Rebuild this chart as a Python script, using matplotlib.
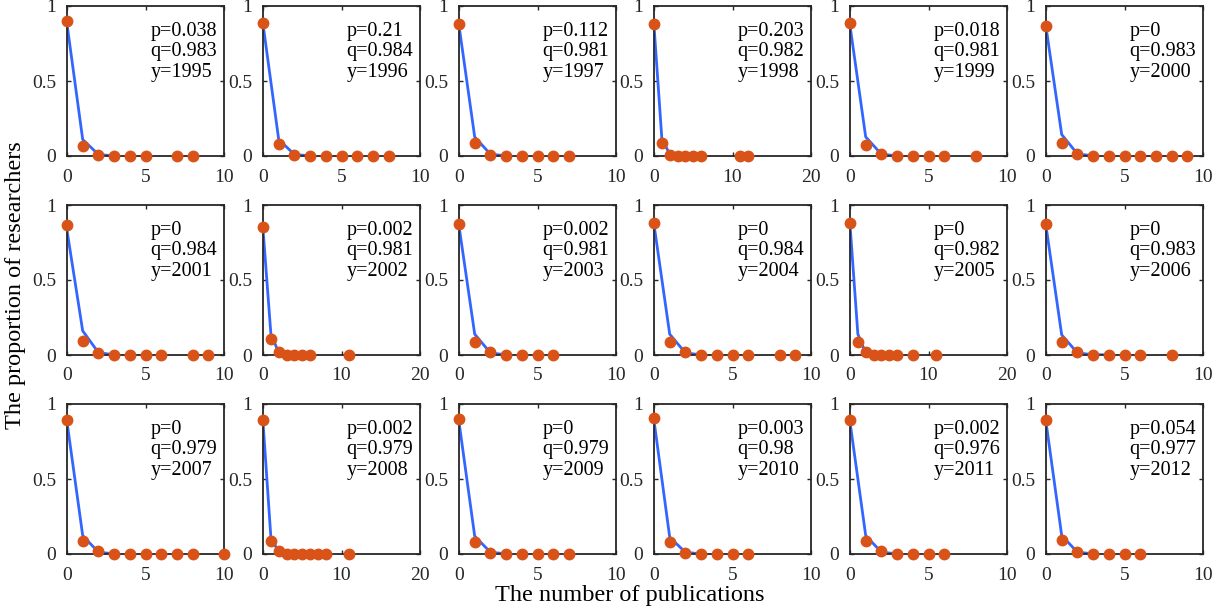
import matplotlib
matplotlib.use("Agg")
import matplotlib.pyplot as plt

plt.rcParams['font.family'] = ['Liberation Serif', 'DejaVu Serif']

# ---- data ----
years = [1995, 1996, 1997, 1998, 1999, 2000,
         2001, 2002, 2003, 2004, 2005, 2006,
         2007, 2008, 2009, 2010, 2011, 2012]
p_vals = ["0.038", "0.21", "0.112", "0.203", "0.018", "0",
          "0", "0.002", "0.002", "0", "0", "0",
          "0", "0.002", "0", "0.003", "0.002", "0.054"]
q_vals = ["0.983", "0.984", "0.981", "0.982", "0.981", "0.983",
          "0.984", "0.981", "0.981", "0.984", "0.982", "0.983",
          "0.979", "0.979", "0.979", "0.98", "0.976", "0.977"]
x_max = [10, 10, 10, 20, 10, 10,
         10, 20, 10, 10, 20, 10,
         10, 20, 10, 10, 10, 10]

# observed publication counts (orange dots)
obs_x = [
    [0, 1, 2, 3, 4, 5, 7, 8],
    [0, 1, 2, 3, 4, 5, 6, 7, 8],
    [0, 1, 2, 3, 4, 5, 6, 7],
    [0, 1, 2, 3, 4, 5, 6, 11, 12],
    [0, 1, 2, 3, 4, 5, 6, 8],
    [0, 1, 2, 3, 4, 5, 6, 7, 8, 9],
    [0, 1, 2, 3, 4, 5, 6, 8, 9],
    [0, 1, 2, 3, 4, 5, 6, 11],
    [0, 1, 2, 3, 4, 5, 6],
    [0, 1, 2, 3, 4, 5, 6, 8, 9],
    [0, 1, 2, 3, 4, 5, 6, 8, 11],
    [0, 1, 2, 3, 4, 5, 6, 8],
    [0, 1, 2, 3, 4, 5, 6, 7, 8, 10],
    [0, 1, 2, 3, 4, 5, 6, 7, 8, 11],
    [0, 1, 2, 3, 4, 5, 6, 7],
    [0, 1, 2, 3, 4, 5, 6],
    [0, 1, 2, 3, 4, 5, 6],
    [0, 1, 2, 3, 4, 5, 6],
]
# observed proportion at counts 0, 1, 2 (higher counts are ~0)
obs_head = [
    [0.90, 0.065, 0.006], [0.89, 0.082, 0.006], [0.877, 0.089, 0.010],
    [0.88, 0.089, 0.010], [0.884, 0.071, 0.015], [0.869, 0.089, 0.013],
    [0.866, 0.094, 0.016], [0.855, 0.105, 0.018], [0.872, 0.089, 0.018],
    [0.881, 0.089, 0.018], [0.881, 0.089, 0.018], [0.872, 0.089, 0.018],
    [0.892, 0.085, 0.022], [0.892, 0.085, 0.022], [0.899, 0.078, 0.009],
    [0.908, 0.078, 0.007], [0.892, 0.085, 0.018], [0.892, 0.096, 0.011],
]
# fitted model (blue line)
fit_y = [
    [0.88, 0.110, 0.010, 0.001], [0.88, 0.110, 0.010, 0.001],
    [0.87, 0.127, 0.012, 0.001], [0.87, 0.116, 0.012, 0.001],
    [0.87, 0.127, 0.012, 0.001], [0.86, 0.143, 0.014, 0.001],
    [0.83, 0.161, 0.016, 0.001], [0.84, 0.143, 0.015, 0.001],
    [0.86, 0.139, 0.014, 0.001], [0.87, 0.139, 0.014, 0.001],
    [0.87, 0.139, 0.014, 0.001], [0.86, 0.134, 0.014, 0.002, 0.001],
    [0.88, 0.123, 0.012, 0.001], [0.88, 0.114, 0.011, 0.001],
    [0.88, 0.119, 0.012, 0.001], [0.89, 0.112, 0.011, 0.001],
    [0.88, 0.123, 0.012, 0.001], [0.88, 0.123, 0.012, 0.001],
]

BLUE = '#3366ff'
ORANGE = '#d95319'
W, H = 1228, 614
lefts = [67, 263, 459, 654, 850, 1046]
tops = [6, 205, 404]
pw, ph = 157, 150

fig = plt.figure(figsize=(W / 100, H / 100), dpi=100)

for i, yr in enumerate(years):
    r, c = divmod(i, 6)
    ax = fig.add_axes([lefts[c] / W, 1 - (tops[r] + ph) / H, pw / W, ph / H])
    xs = obs_x[i]
    ys = obs_head[i] + [0.001] * (len(xs) - 3)
    fy = fit_y[i]
    ax.plot(range(len(fy)), fy, color=BLUE, lw=2, zorder=2)
    ax.plot(xs, ys, 'o', color=ORANGE, ms=7.5, mec=ORANGE, zorder=3, clip_on=False)
    ax.set_xlim(0, x_max[i])
    ax.set_ylim(0, 1)
    step = x_max[i] // 2
    ax.set_xticks([0, step, x_max[i]])
    ax.set_yticks([0, 0.5, 1])
    ax.set_yticklabels(['0', '0.5', '1'])
    ax.tick_params(direction='in', top=True, right=True, length=3,
                   width=1, labelsize=14, colors='#262626')
    ax.tick_params(axis='x', pad=9)
    ax.tick_params(axis='y', pad=8)
    for s in ax.spines.values():
        s.set_linewidth(1.3)
        s.set_color('#262626')
    ax.text(0.53, 0.895, f"p={p_vals[i]}\nq={q_vals[i]}\ny={yr}",
            transform=ax.transAxes, va='top', ha='left', fontsize=14.5,
            linespacing=1.12)

fig.text(16 / W, 1 - 285 / H, 'The proportion of researchers', rotation=90,
         ha='center', va='center', fontsize=17.5)
fig.text(630 / W, 1 - 596 / H, 'The number of publications',
         ha='center', va='center', fontsize=17.5)

fig.savefig('out.png', dpi=100)
